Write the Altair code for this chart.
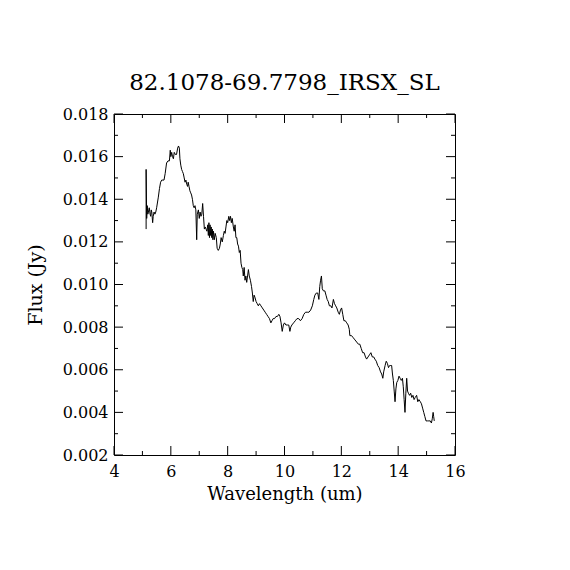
import altair as alt
import pandas as pd

wavelength = [5.13, 5.13, 5.15, 5.17, 5.19, 5.21, 5.24, 5.27, 5.29, 5.31, 5.33, 5.36, 5.38, 5.41, 5.44, 5.47,
    5.50, 5.56, 5.60, 5.64, 5.68, 5.72, 5.76, 5.80, 5.85, 5.90, 5.95, 5.98, 6.00, 6.03, 6.06, 6.09,
    6.12, 6.16, 6.20, 6.24, 6.27, 6.30, 6.32, 6.35, 6.38, 6.41, 6.44, 6.47, 6.50, 6.53, 6.56, 6.59,
    6.61, 6.64, 6.67, 6.70, 6.73, 6.76, 6.79, 6.82, 6.85, 6.88, 6.91, 6.93, 6.97, 7.00, 7.03, 7.06,
    7.09, 7.12, 7.15, 7.18, 7.21, 7.24, 7.27, 7.30, 7.32, 7.34, 7.36, 7.38, 7.40, 7.42, 7.44, 7.46,
    7.48, 7.50, 7.53, 7.56, 7.60, 7.63, 7.67, 7.71, 7.74, 7.77, 7.81, 7.85, 7.88, 7.91, 7.94, 7.97,
    8.00, 8.04, 8.07, 8.10, 8.13, 8.16, 8.20, 8.23, 8.26, 8.29, 8.32, 8.35, 8.38, 8.41, 8.44, 8.47,
    8.50, 8.53, 8.55, 8.58, 8.61, 8.64, 8.67, 8.70, 8.73, 8.76, 8.80, 8.84, 8.87, 8.90, 8.93, 8.96,
    9.00, 9.04, 9.08, 9.12, 9.17, 9.22, 9.27, 9.32, 9.37, 9.42, 9.47, 9.52, 9.56, 9.60, 9.65, 9.70,
    9.75, 9.80, 9.84, 9.88, 9.92, 9.96, 10.00, 10.05, 10.10, 10.15, 10.19, 10.22, 10.26, 10.32, 10.38, 10.44,
    10.50, 10.56, 10.62, 10.68, 10.74, 10.80, 10.86, 10.92, 10.98, 11.03, 11.07, 11.12, 11.17, 11.21, 11.24, 11.27,
    11.30, 11.33, 11.37, 11.42, 11.46, 11.50, 11.54, 11.58, 11.63, 11.67, 11.72, 11.76, 11.80, 11.84, 11.89, 11.93,
    11.97, 12.01, 12.05, 12.09, 12.14, 12.19, 12.24, 12.28, 12.30, 12.36, 12.42, 12.48, 12.54, 12.60, 12.65, 12.70,
    12.75, 12.80, 12.85, 12.89, 12.94, 12.99, 13.04, 13.09, 13.14, 13.18, 13.23, 13.28, 13.33, 13.38, 13.42, 13.46,
    13.49, 13.54, 13.58, 13.62, 13.66, 13.70, 13.74, 13.77, 13.80, 13.83, 13.86, 13.89, 13.92, 13.95, 13.99, 14.03,
    14.07, 14.11, 14.15, 14.18, 14.21, 14.24, 14.27, 14.30, 14.33, 14.36, 14.40, 14.44, 14.48, 14.52, 14.56, 14.60,
    14.65, 14.69, 14.73, 14.78, 14.82, 14.86, 14.90, 14.94, 14.98, 15.03, 15.08, 15.13, 15.17, 15.20, 15.23, 15.25,
    15.27]

flux = [0.0126, 0.0154, 0.0131, 0.0137, 0.0133, 0.0134, 0.0136, 0.0133, 0.0132, 0.0135, 0.0134, 0.0129, 0.0132, 0.0134, 0.0133, 0.0134,
    0.0136, 0.0141, 0.0145, 0.0148, 0.0149, 0.0149, 0.0149, 0.0152, 0.0157, 0.0158, 0.0158, 0.0163, 0.0160, 0.0162, 0.0160, 0.0159,
    0.0162, 0.0161, 0.0161, 0.0164, 0.0165, 0.0164, 0.0159, 0.0156, 0.0154, 0.0153, 0.0152, 0.0150, 0.0148, 0.0149, 0.0147, 0.0146,
    0.0148, 0.0146, 0.0144, 0.0143, 0.0142, 0.0140, 0.0137, 0.0136, 0.0137, 0.0135, 0.0121, 0.0133, 0.0135, 0.0131, 0.0134, 0.0132,
    0.0133, 0.0138, 0.0132, 0.0126, 0.0127, 0.0126, 0.0125, 0.0128, 0.0123, 0.0129, 0.0122, 0.0128, 0.0123, 0.0127, 0.0122, 0.0126,
    0.0121, 0.0125, 0.0121, 0.0124, 0.0122, 0.0117, 0.0116, 0.0117, 0.0119, 0.0122, 0.0120, 0.0123, 0.0125, 0.0124, 0.0127, 0.0130,
    0.0129, 0.0132, 0.0130, 0.0132, 0.0129, 0.0131, 0.0127, 0.0125, 0.0128, 0.0122, 0.0122, 0.0119, 0.0118, 0.0115, 0.0116, 0.0110,
    0.0108, 0.0107, 0.0104, 0.0108, 0.0102, 0.0104, 0.0101, 0.0104, 0.0107, 0.0104, 0.0102, 0.0099, 0.0096, 0.0092, 0.0095, 0.0094,
    0.0092, 0.0091, 0.0090, 0.0091, 0.0090, 0.0089, 0.0088, 0.0087, 0.0086, 0.0085, 0.0084, 0.0082, 0.0083, 0.0084, 0.0084, 0.0085,
    0.0085, 0.0086, 0.0085, 0.0082, 0.0078, 0.0081, 0.0082, 0.0081, 0.0081, 0.0081, 0.0078, 0.0080, 0.0081, 0.0082, 0.0083, 0.0084,
    0.0084, 0.0083, 0.0084, 0.0086, 0.0087, 0.0087, 0.0087, 0.0088, 0.0090, 0.0093, 0.0095, 0.0096, 0.0096, 0.0093, 0.0099, 0.0102,
    0.0104, 0.0098, 0.0097, 0.0097, 0.0095, 0.0093, 0.0092, 0.0090, 0.0090, 0.0089, 0.0093, 0.0091, 0.0090, 0.0089, 0.0087, 0.0086,
    0.0088, 0.0089, 0.0086, 0.0083, 0.0083, 0.0082, 0.0081, 0.0079, 0.0076, 0.0076, 0.0075, 0.0074, 0.0073, 0.0072, 0.0072, 0.0070,
    0.0068, 0.0068, 0.0066, 0.0065, 0.0066, 0.0067, 0.0068, 0.0066, 0.0066, 0.0065, 0.0064, 0.0062, 0.0061, 0.0059, 0.0058, 0.0056,
    0.0059, 0.0062, 0.0064, 0.0063, 0.0061, 0.0062, 0.0062, 0.0062, 0.0058, 0.0055, 0.0050, 0.0045, 0.0051, 0.0054, 0.0055, 0.0057,
    0.0056, 0.0055, 0.0056, 0.0052, 0.0046, 0.0040, 0.0049, 0.0056, 0.0050, 0.0049, 0.0048, 0.0049, 0.0047, 0.0048, 0.0046, 0.0047,
    0.0048, 0.0045, 0.0046, 0.0045, 0.0044, 0.0042, 0.0040, 0.0038, 0.0036, 0.0036, 0.0036, 0.0036, 0.0035, 0.0037, 0.0040, 0.0038,
    0.0036]

x_major = [4, 6, 8, 10, 12, 14, 16]
x_minor = [5, 7, 9, 11, 13, 15]
y_major = [0.002, 0.004, 0.006, 0.008, 0.010, 0.012, 0.014, 0.016, 0.018]
y_minor = [0.003, 0.005, 0.007, 0.009, 0.011, 0.013, 0.015, 0.017]

FONT = "DejaVu Serif"
W = 341
H = 341

df = pd.DataFrame({"w": wavelength, "f": flux, "i": list(range(len(flux)))})

xscale = alt.Scale(domain=[4, 16], nice=False, zero=False)
yscale = alt.Scale(domain=[0.002, 0.018], nice=False, zero=False)

xaxis = alt.Axis(values=x_major, format="d", ticks=False, domain=False, grid=False,
                 labelFlush=False, labelOverlap=False,
                 labelFont=FONT, labelFontSize=16, labelColor="black", labelPadding=8,
                 title="Wavelength (um)", titleFont=FONT, titleFontSize=18,
                 titleFontWeight="normal", titleColor="black", titlePadding=6)
yaxis = alt.Axis(values=y_major, format=".3f", ticks=False, domain=False, grid=False,
                 labelFlush=False, labelOverlap=False,
                 labelFont=FONT, labelFontSize=16, labelColor="black", labelPadding=6,
                 title="Flux (Jy)", titleFont=FONT, titleFontSize=19,
                 titleFontWeight="normal", titleColor="black", titlePadding=17)

line = alt.Chart(df).mark_line(color="black", strokeWidth=1, interpolate="linear").encode(
    x=alt.X("w:Q", scale=xscale, axis=xaxis),
    y=alt.Y("f:Q", scale=yscale, axis=yaxis),
    order="i:Q",
)

def xticks(vals, length):
    d = pd.DataFrame({"v": vals})
    bottom = alt.Chart(d).mark_rule(color="black", strokeWidth=1).encode(
        x=alt.X("v:Q", scale=xscale), y=alt.value(H), y2=alt.value(H - length))
    top = alt.Chart(d).mark_rule(color="black", strokeWidth=1).encode(
        x=alt.X("v:Q", scale=xscale), y=alt.value(0), y2=alt.value(length))
    return [bottom, top]

def yticks(vals, length):
    d = pd.DataFrame({"v": vals})
    left = alt.Chart(d).mark_rule(color="black", strokeWidth=1).encode(
        y=alt.Y("v:Q", scale=yscale), x=alt.value(0), x2=alt.value(length))
    right = alt.Chart(d).mark_rule(color="black", strokeWidth=1).encode(
        y=alt.Y("v:Q", scale=yscale), x=alt.value(W), x2=alt.value(W - length))
    return [left, right]

layers = [line] + xticks(x_major, 9) + xticks(x_minor, 4) + yticks(y_major, 9) + yticks(y_minor, 4)

chart = alt.layer(*layers).properties(
    width=W, height=H,
    title=alt.TitleParams("82.1078-69.7798_IRSX_SL", font=FONT, fontSize=23,
                          fontWeight="normal", color="black", anchor="middle", offset=11),
    autosize=alt.AutoSizeParams(type="none"),
    padding={"left": 106, "top": 106, "right": 107, "bottom": 107},
    background="white",
).configure_view(stroke="black", strokeWidth=1).resolve_scale(x="shared", y="shared")

chart.save("out.html", embed_options={"renderer": "svg", "actions": False})
